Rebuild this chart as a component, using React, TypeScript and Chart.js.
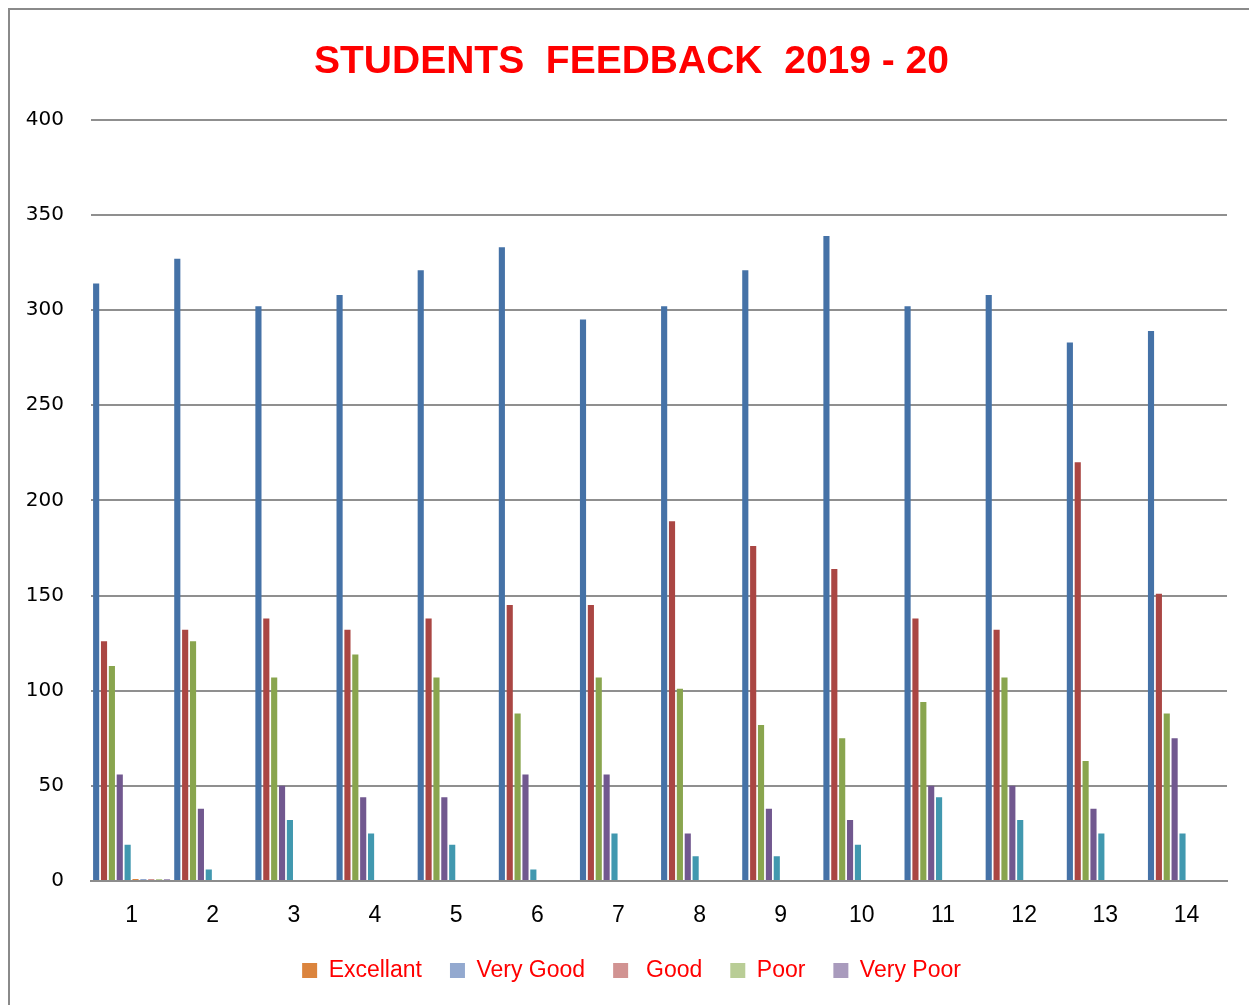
import React, { useEffect, useRef } from "react";
import { Chart, registerables } from "chart.js";

Chart.register(...registerables);

const categories = ["1", "2", "3", "4", "5", "6", "7", "8", "9", "10", "11", "12", "13", "14"];

// Main (unlabelled) series
const seriesBlue = [314, 327, 302, 308, 321, 333, 295, 302, 321, 339, 302, 308, 283, 289];
const seriesRed = [126, 132, 138, 132, 138, 145, 145, 189, 176, 164, 138, 132, 220, 151];
const seriesGreen = [113, 126, 107, 119, 107, 88, 107, 101, 82, 75, 94, 107, 63, 88];
const seriesPurple = [56, 38, 50, 44, 44, 56, 56, 25, 38, 32, 50, 50, 38, 75];
const seriesTeal = [19, 6, 32, 25, 19, 6, 25, 13, 13, 19, 44, 32, 25, 25];

// Legend series (tiny values, only at category 1)
const legendLabels = ["Excellant", "Very Good", " Good", "Poor", "Very Poor"];
const excellant = [1, 0, 0, 0, 0, 0, 0, 0, 0, 0, 0, 0, 0, 0];
const veryGood = [1, 0, 0, 0, 0, 0, 0, 0, 0, 0, 0, 0, 0, 0];
const good = [1, 0, 0, 0, 0, 0, 0, 0, 0, 0, 0, 0, 0, 0];
const poor = [1, 0, 0, 0, 0, 0, 0, 0, 0, 0, 0, 0, 0, 0];
const veryPoor = [1, 0, 0, 0, 0, 0, 0, 0, 0, 0, 0, 0, 0, 0];

const yTicks = [0, 50, 100, 150, 200, 250, 300, 350, 400];

const mainColors = ["#4572A7", "#AA4643", "#89A54E", "#71588F", "#4198AF"];
const legendColors = ["#DB843D", "#93A9CF", "#D19392", "#B9CD96", "#A99BBD"];

export default function App() {
  const canvasRef = useRef<HTMLCanvasElement | null>(null);

  useEffect(() => {
    if (!canvasRef.current) return;
    const mainSeries = [seriesBlue, seriesRed, seriesGreen, seriesPurple, seriesTeal];
    const legendSeries = [excellant, veryGood, good, poor, veryPoor];
    const datasets: any[] = [];
    mainSeries.forEach((d, i) =>
      datasets.push({ label: "", data: d, backgroundColor: mainColors[i], borderWidth: 0 })
    );
    legendSeries.forEach((d, i) =>
      datasets.push({ label: legendLabels[i], data: d, backgroundColor: legendColors[i], borderWidth: 0 })
    );

    const chart = new Chart(canvasRef.current, {
      type: "bar",
      data: { labels: categories, datasets },
      options: {
        animation: false,
        responsive: false,
        datasets: { bar: { categoryPercentage: 0.97, barPercentage: 0.78 } },
        layout: { padding: { left: 0, right: 0, top: 0, bottom: 18 } },
        plugins: {
          title: {
            display: true,
            text: "STUDENTS  FEEDBACK  2019 - 20",
            color: "#FF0000",
            font: { family: "'Liberation Sans', Arial, sans-serif", size: 39, weight: "bold", lineHeight: 1.2 },
            padding: { top: 29, bottom: 34 },
          },
          legend: {
            position: "bottom",
            labels: {
              filter: (item: any) => item.datasetIndex >= 5,
              color: "#FF0000",
              boxWidth: 15,
              boxHeight: 15,
              padding: 28,
              font: { family: "'Liberation Sans', Arial, sans-serif", size: 23 },
            },
          },
          tooltip: { enabled: false },
        },
        scales: {
          x: {
            grid: { display: false, drawTicks: false },
            border: { display: true, color: "#8c8c8c", width: 2 },
            ticks: {
              color: "#000",
              padding: 21,
              font: { family: "'Liberation Sans', Arial, sans-serif", size: 23 },
            },
            afterFit: (scale: any) => {
              scale.height = 50;
            },
          },
          y: {
            min: 0,
            max: 400,
            afterBuildTicks: (scale: any) => {
              scale.ticks = yTicks.map((v) => ({ value: v }));
            },
            grid: { color: "#8f8f8f", lineWidth: 2, drawTicks: false },
            border: { display: false },
            ticks: {
              color: "#000",
              padding: 27,
              font: { family: "'DejaVu Sans', Verdana, sans-serif", size: 20 },
            },
            afterFit: (scale: any) => {
              scale.width = 81;
            },
          },
          spacer: {
            type: "linear",
            position: "right",
            display: true,
            grid: { display: false, drawTicks: false },
            border: { display: false },
            ticks: { display: false },
            afterFit: (scale: any) => {
              scale.width = 26;
            },
          },
        },
      },
    });
    return () => chart.destroy();
  }, []);

  return (
    <div
      style={{
        width: 1243,
        height: 1000,
        border: "2px solid #8a8a8a",
        overflow: "hidden",
        background: "#fff",
      }}
    >
      <canvas ref={canvasRef} width={1243} height={1000} style={{ display: "block" }} />
    </div>
  );
}
